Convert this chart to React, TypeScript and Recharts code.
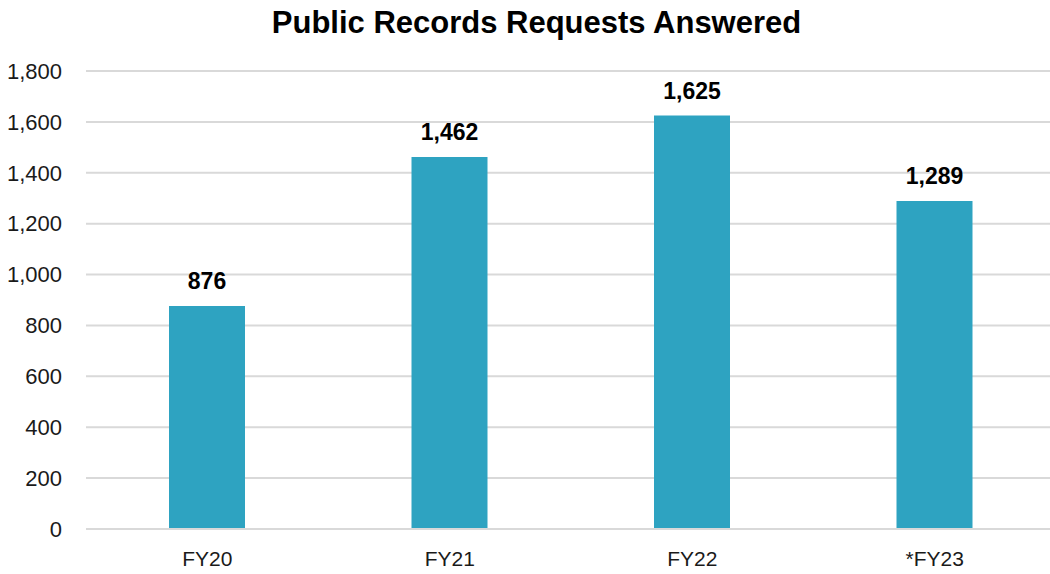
import { Bar, BarChart, CartesianGrid, LabelList, XAxis, YAxis } from 'recharts';

const categories = ['FY20', 'FY21', 'FY22', '*FY23'];
const answered = [876, 1462, 1625, 1289];
const yTicks = [0, 200, 400, 600, 800, 1000, 1200, 1400, 1600, 1800];

const rows = categories.map((name, i) => ({ name, value: answered[i] }));

const fmt = (v: number) => v.toLocaleString('en-US');

export default function App() {
  return (
    <div
      style={{
        position: 'absolute',
        left: 0,
        top: 0,
        width: 1050,
        height: 574,
        overflow: 'hidden',
        background: '#fff',
        fontFamily: '"Liberation Sans", Arial, sans-serif',
      }}
    >
      <div
        style={{
          position: 'absolute',
          left: 0,
          top: 5,
          width: 1073,
          textAlign: 'center',
          fontSize: 31,
          fontWeight: 700,
          lineHeight: '36px',
          color: '#000',
        }}
      >
        Public Records Requests Answered
      </div>
      <BarChart
        width={1060}
        height={574}
        data={rows}
        margin={{ top: 71, right: 4, bottom: 0, left: 0 }}
      >
        <CartesianGrid vertical={false} stroke="#d9d9d9" strokeWidth={2} />
        <XAxis
          dataKey="name"
          height={45}
          axisLine={{ stroke: '#d9d9d9', strokeWidth: 2 }}
          tickLine={false}
          tickSize={0}
          tickMargin={22}
          tick={{ fontSize: 21, fill: '#1a1a1a' }}
        />
        <YAxis
          width={86}
          domain={[0, 1800]}
          ticks={yTicks}
          axisLine={false}
          tickLine={false}
          tickSize={0}
          tickMargin={24}
          tickFormatter={fmt}
          tick={{ fontSize: 22, fill: '#1a1a1a' }}
        />
        <Bar dataKey="value" fill="#2ea3c1" barSize={76} isAnimationActive={false}>
          <LabelList
            dataKey="value"
            position="top"
            offset={17}
            formatter={(v: number) => fmt(v)}
            style={{ fontSize: 23, fontWeight: 700, fill: '#000' }}
          />
        </Bar>
      </BarChart>
    </div>
  );
}
